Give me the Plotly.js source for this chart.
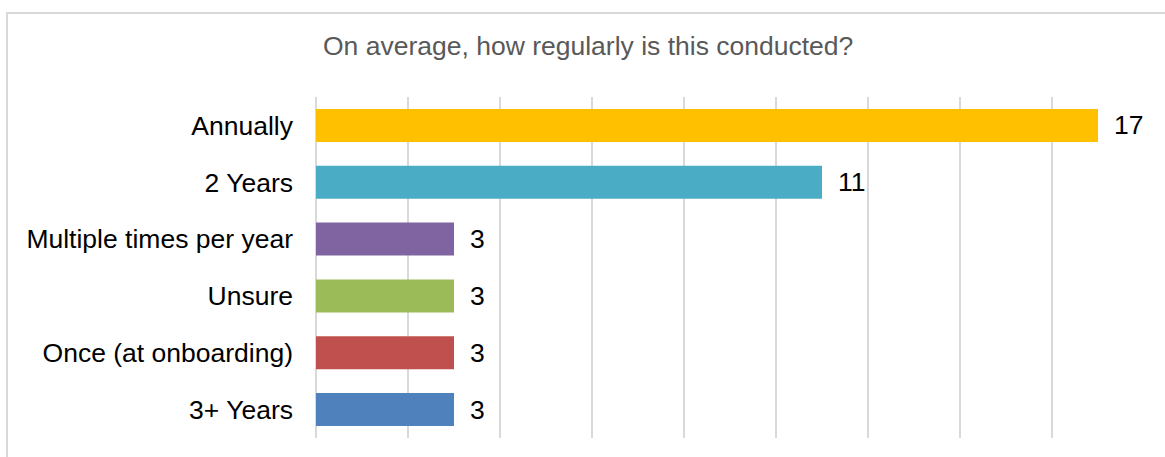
<!DOCTYPE html>
<html>
<head>
<meta charset="utf-8">
<script src="https://cdn.plot.ly/plotly-3.0.1.min.js"></script>
<style>
html,body{margin:0;padding:0;background:#fff;}
#chart{width:1165px;height:457px;}
</style>
</head>
<body>
<div id="chart"></div>
<script>
const categories = ["Annually", "2 Years", "Multiple times per year", "Unsure", "Once (at onboarding)", "3+ Years"];
const counts = [17, 11, 3, 3, 3, 3];
const barColors = ["#FFC000", "#4BACC6", "#8064A2", "#9BBB59", "#C0504D", "#4F81BD"];
const titleText = "On average, how regularly is this conducted?";

const W = 1165, H = 457;
const L = 316, R = 21, T = 97, B = 19;
const pw = W - L - R, ph = H - T - B;
const px = v => (v - L) / pw;
const py = v => (H - B - v) / ph;
const FONT = "Liberation Sans, Arial, sans-serif";
const FS = 26.5;

const trace = {
  type: "bar",
  orientation: "h",
  x: counts,
  y: categories,
  marker: {color: barColors},
  width: 0.58,
  hoverinfo: "none"
};

const annotations = counts.map((c, i) => ({
  x: c, y: categories[i], xref: "x", yref: "y",
  text: String(c), showarrow: false, xanchor: "left", yanchor: "middle",
  xshift: 14, font: {family: FONT, size: FS, color: "#000"}
}));
annotations.push({
  x: px(588), y: py(46), xref: "paper", yref: "paper",
  text: titleText, showarrow: false, xanchor: "center", yanchor: "middle",
  font: {family: FONT, size: FS, color: "#595959"}
});

const layout = {
  width: W, height: H,
  margin: {l: L, r: R, t: T, b: B, pad: 0},
  paper_bgcolor: "#fff", plot_bgcolor: "#fff",
  showlegend: false,
  font: {family: FONT, size: FS, color: "#000"},
  xaxis: {
    range: [0, 18], dtick: 2, tick0: 0, showticklabels: false,
    showgrid: true, gridcolor: "#d9d9d9", gridwidth: 2,
    zeroline: true, zerolinecolor: "#d9d9d9", zerolinewidth: 2,
    showline: false, ticks: "", fixedrange: true
  },
  yaxis: {
    autorange: "reversed", type: "category",
    showgrid: false, zeroline: false, showline: false,
    ticks: "", ticklabelstandoff: 22,
    tickfont: {family: FONT, size: FS, color: "#000"},
    fixedrange: true
  },
  annotations: annotations,
  shapes: [{
    type: "rect", xref: "paper", yref: "paper",
    x0: px(7), x1: px(1180), y0: py(480), y1: py(13),
    line: {color: "#d9d9d9", width: 2}, fillcolor: "rgba(0,0,0,0)", layer: "below"
  }]
};

Plotly.newPlot("chart", [trace], layout, {displayModeBar: false, staticPlot: true});
</script>
</body>
</html>
